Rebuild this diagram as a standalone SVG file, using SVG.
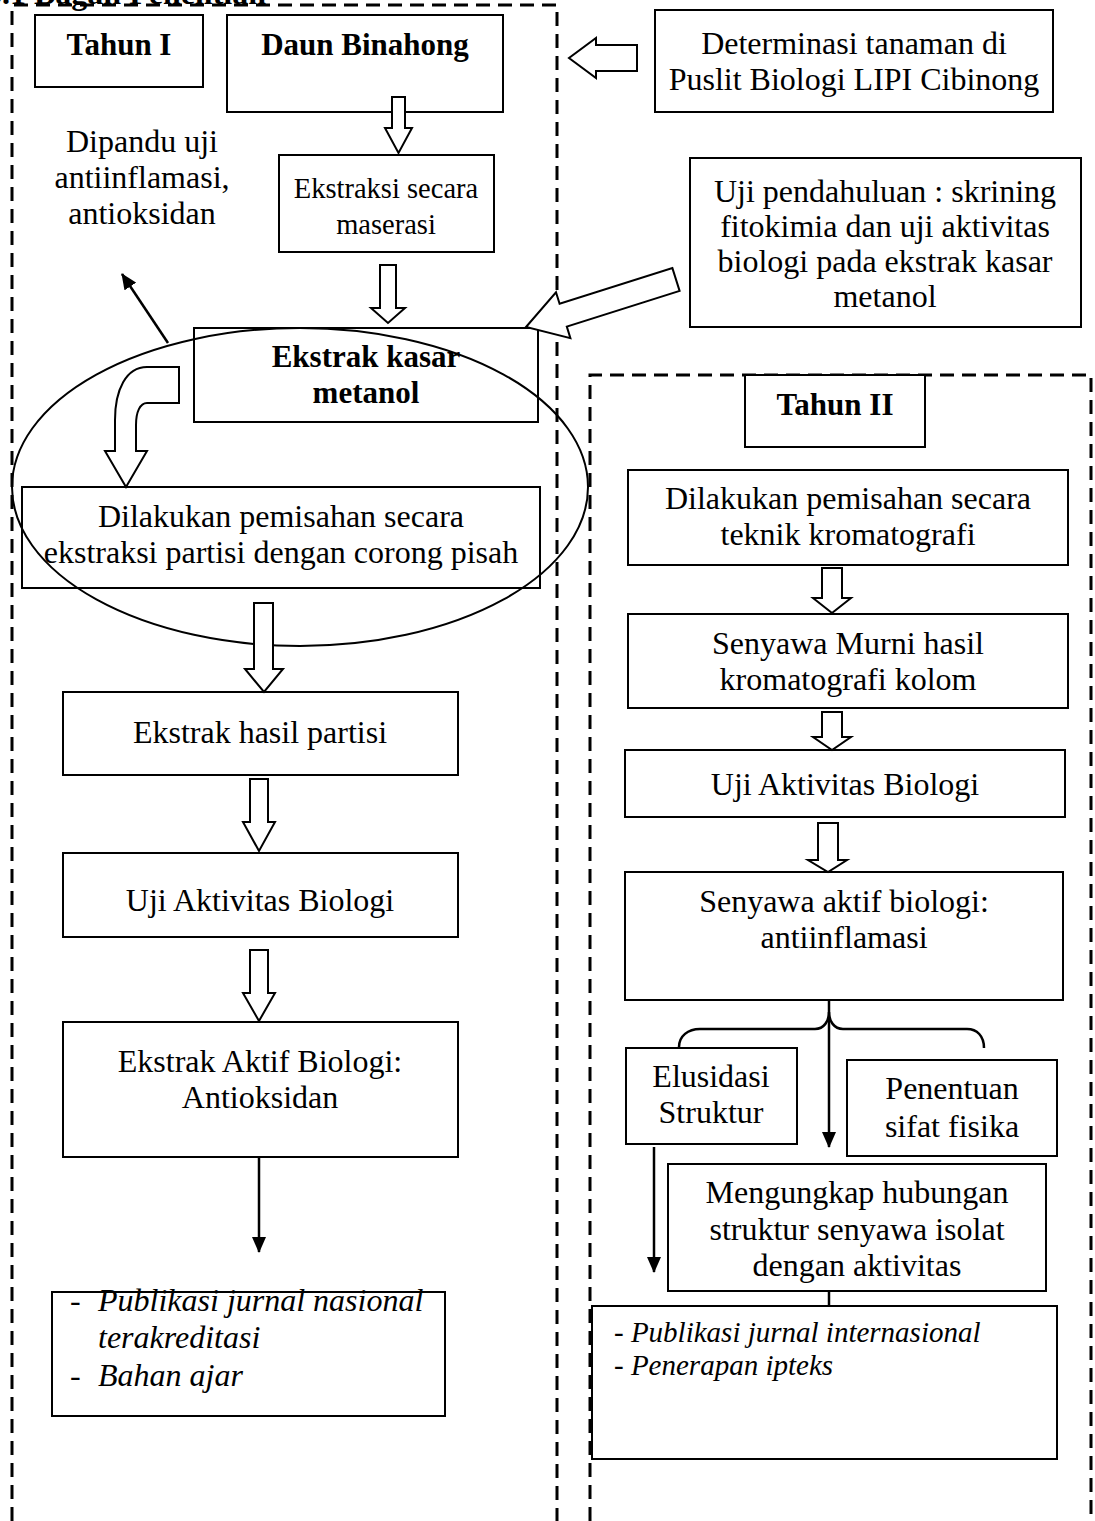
<svg xmlns="http://www.w3.org/2000/svg" width="1095" height="1521" viewBox="0 0 1095 1521">
<defs>
<style>
.box{fill:#fff;stroke:#000;stroke-width:2}
.dash{fill:none;stroke:#000;stroke-width:3;stroke-dasharray:14 8}
.blk{fill:#fff;stroke:#000;stroke-width:2;stroke-linejoin:miter}
.ln{fill:none;stroke:#000;stroke-width:2.5}
.t{font-family:"Liberation Serif","Times New Roman",serif;font-size:32px;fill:#000;text-anchor:middle}
.s{font-size:28.5px}
.b{font-family:"Liberation Serif","Times New Roman",serif;font-size:31px;font-weight:bold;fill:#000;text-anchor:middle}
.i{font-family:"Liberation Serif","Times New Roman",serif;font-size:32px;font-style:italic;fill:#000}
.i2{font-family:"Liberation Serif","Times New Roman",serif;font-size:29px;font-style:italic;fill:#000}
</style>
<marker id="ah" markerUnits="userSpaceOnUse" markerWidth="16" markerHeight="14" refX="15" refY="7" orient="auto">
<path d="M0,0 L16,7 L0,14 z" fill="#000"/>
</marker>
</defs>
<rect width="1095" height="1521" fill="#fff"/>

<g id="frames">
<path class="dash" d="M12,1521 V5 H557 V1521"/>
<path class="dash" d="M590,1521 V375 H1091 V1521"/>
</g>
<text x="-14" y="4" style="font-family:'Liberation Serif','Times New Roman',serif;font-size:32px;font-weight:bold">3.1 Bagan Penelitian</text>

<g id="n-tahun1"><rect class="box" x="35" y="15" width="168" height="72"/><text class="b" x="119" y="55">Tahun I</text></g>
<g id="n-daun"><rect class="box" x="227" y="15" width="276" height="97"/><text class="b" x="365" y="55">Daun Binahong</text></g>
<g id="n-determinasi"><rect class="box" x="655" y="10" width="398" height="102"/><text class="t" x="854" y="54">Determinasi tanaman di</text><text class="t" x="854" y="90">Puslit Biologi LIPI Cibinong</text></g>
<g id="n-ekstraksi"><rect class="box" x="279" y="155" width="215" height="97"/><text class="t s" x="386" y="198">Ekstraksi secara</text><text class="t s" x="386" y="234">maserasi</text></g>
<g id="n-dipandu"><text class="t" x="142" y="152">Dipandu uji</text><text class="t" x="142" y="188">antiinflamasi,</text><text class="t" x="142" y="224">antioksidan</text></g>
<g id="n-ujipendahuluan"><rect class="box" x="690" y="158" width="391" height="169"/><text class="t" x="885" y="202">Uji pendahuluan : skrining</text><text class="t" x="885" y="237">fitokimia dan uji aktivitas</text><text class="t" x="885" y="272">biologi pada ekstrak kasar</text><text class="t" x="885" y="307">metanol</text></g>
<g id="n-kasar"><rect class="box" x="194" y="328" width="344" height="94"/><text class="b" x="366" y="367">Ekstrak kasar</text><text class="b" x="366" y="403">metanol</text></g>
<g id="n-partisi"><rect class="box" x="22" y="487" width="518" height="101"/><text class="t" x="281" y="527">Dilakukan pemisahan secara</text><text class="t" x="281" y="563">ekstraksi partisi dengan corong pisah</text></g>
<g id="n-hasilpartisi"><rect class="box" x="63" y="692" width="395" height="83"/><text class="t" x="260" y="743">Ekstrak hasil partisi</text></g>
<g id="n-uji1"><rect class="box" x="63" y="853" width="395" height="84"/><text class="t" x="260" y="911">Uji Aktivitas Biologi</text></g>
<g id="n-aktif1"><rect class="box" x="63" y="1022" width="395" height="135"/><text class="t" x="260" y="1072">Ekstrak Aktif Biologi:</text><text class="t" x="260" y="1108">Antioksidan</text></g>
<g id="n-pub1"><rect class="box" x="52" y="1292" width="393" height="124"/><text class="i" x="70" y="1311">-</text><text class="i" x="98" y="1311">Publikasi jurnal nasional</text><text class="i" x="98" y="1348">terakreditasi</text><text class="i" x="70" y="1386">-</text><text class="i" x="98" y="1386">Bahan ajar</text></g>

<g id="n-tahun2"><rect class="box" x="745" y="375" width="180" height="72"/><text class="b" x="835" y="415">Tahun II</text></g>
<g id="n-kromatografi"><rect class="box" x="628" y="470" width="440" height="95"/><text class="t" x="848" y="509">Dilakukan pemisahan secara</text><text class="t" x="848" y="545">teknik kromatografi</text></g>
<g id="n-murni"><rect class="box" x="628" y="614" width="440" height="94"/><text class="t" x="848" y="654">Senyawa Murni hasil</text><text class="t" x="848" y="690">kromatografi kolom</text></g>
<g id="n-uji2"><rect class="box" x="625" y="750" width="440" height="67"/><text class="t" x="845" y="795">Uji Aktivitas Biologi</text></g>
<g id="n-aktif2"><rect class="box" x="625" y="872" width="438" height="128"/><text class="t" x="844" y="912">Senyawa aktif biologi:</text><text class="t" x="844" y="948">antiinflamasi</text></g>
<g id="n-elusidasi"><rect class="box" x="626" y="1048" width="171" height="96"/><text class="t" x="711" y="1087">Elusidasi</text><text class="t" x="711" y="1123">Struktur</text></g>
<g id="n-penentuan"><rect class="box" x="847" y="1060" width="210" height="96"/><text class="t" x="952" y="1099">Penentuan</text><text class="t" x="952" y="1137">sifat fisika</text></g>
<g id="n-mengungkap"><rect class="box" x="668" y="1164" width="378" height="127"/><text class="t" x="857" y="1203">Mengungkap hubungan</text><text class="t" x="857" y="1240">struktur senyawa isolat</text><text class="t" x="857" y="1276">dengan aktivitas</text></g>
<g id="n-pub2"><rect class="box" x="592" y="1306" width="465" height="153"/><text class="i2" x="614" y="1342">- Publikasi jurnal internasional</text><text class="i2" x="614" y="1375">- Penerapan ipteks</text></g>

<g id="connectors">
<ellipse cx="300" cy="487" rx="288" ry="159" fill="none" stroke="#000" stroke-width="2"/>
<path class="blk" d="M637,45 L596,45 L596,38 L569,58 L596,78 L596,71 L637,71 Z"/>
<path class="blk" d="M392,97 H405 V128 H412 L398.5,153 L385,128 H392 Z"/>
<path class="blk" d="M380,265 H396 V308 H405 L388,323 L371,308 H380 Z"/>
<path class="blk" d="M672.4,268.1 L679.6,290.9 L566.8,326.6 L570.4,338.1 L526,327 L556,292.3 L559.6,303.8 Z"/>
<path class="blk" d="M179,367 L147,367 C126,367 115,390 115,420 L115,451 L105,451 L126,487 L147,451 L136,451 L136,425 C136,412 140,403 147,403 L179,403 Z"/>
<line class="ln" x1="168" y1="343" x2="122" y2="274" marker-end="url(#ah)"/>
<path class="blk" d="M254,603 H273 V669 H283 L264,692 L245,669 H254 Z"/>
<path class="blk" d="M250,779 H268 V822 H275 L259,851 L243,822 H250 Z"/>
<path class="blk" d="M250,950 H268 V993 H275 L259,1021 L243,993 H250 Z"/>
<line class="ln" x1="259" y1="1157" x2="259" y2="1252" marker-end="url(#ah)"/>
<path class="blk" d="M822,568 H842 V598 H851 L832,613 L813,598 H822 Z"/>
<path class="blk" d="M822,712 H842 V737 H851 L832,750 L813,737 H822 Z"/>
<path class="blk" d="M818,823 H838 V860 H847 L828,872 L808,860 H818 Z"/>
<path class="ln" d="M679,1047 C679,1036 688,1029 700,1029 L815,1029 C824,1029 829,1021 829,1012 C829,1021 834,1029 843,1029 L967,1029 C977,1029 984,1036 984,1048"/>
<line class="ln" x1="829" y1="1000" x2="829" y2="1147" marker-end="url(#ah)"/>
<line class="ln" x1="654" y1="1147" x2="654" y2="1272" marker-end="url(#ah)"/>
<line class="ln" x1="829" y1="1291" x2="829" y2="1306"/>
</g>
</svg>
